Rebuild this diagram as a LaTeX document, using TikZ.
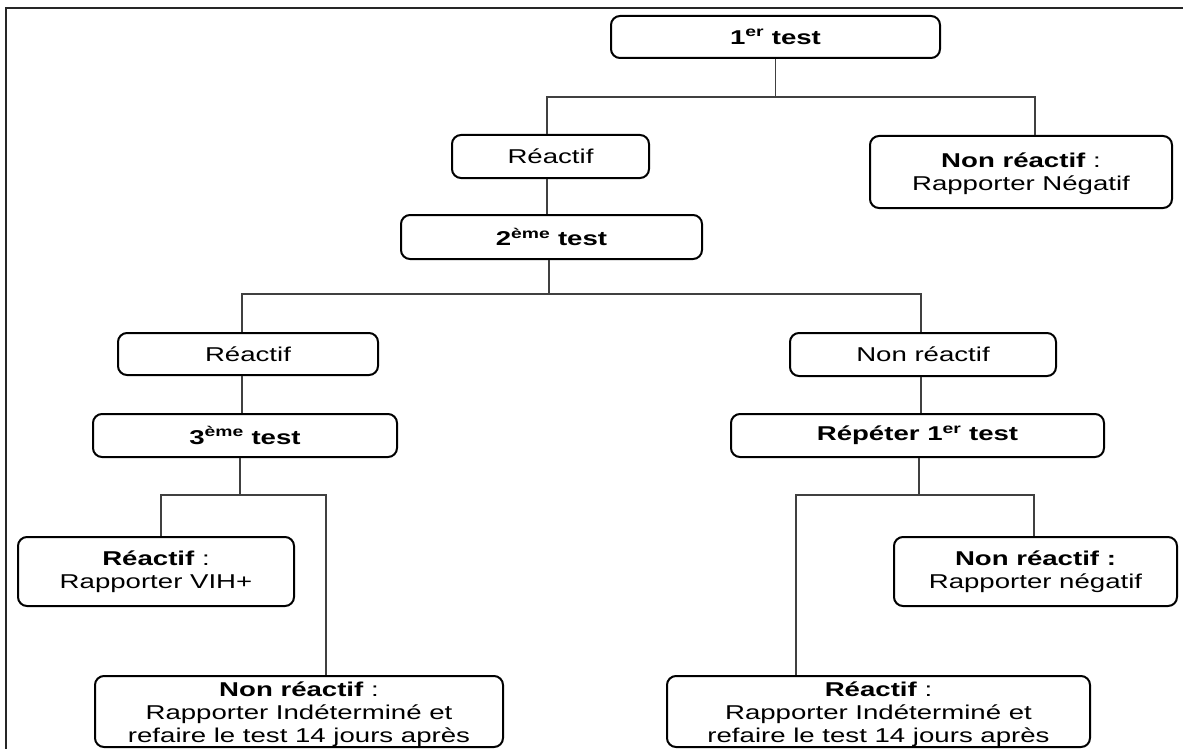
\documentclass[tikz,border=0pt]{standalone}
\usepackage{fontspec}
\setmainfont[FakeStretch=1.38]{Liberation Sans}
\begin{document}
\begin{tikzpicture}[x=1pt,y=-1pt,
  box/.style={draw=black,line width=2pt,rounded corners=9pt,inner sep=0pt,align=center,
    font=\fontsize{20}{23.5}\selectfont},
  txt/.style={inner sep=0pt,align=center,font=\fontsize{20}{23}\selectfont},
  conn/.style={draw=black!75,line width=1.3pt},
  frame/.style={draw=black!85,line width=2.5pt}]
\useasboundingbox (0,0) rectangle (1183,749);
\draw[frame] (6,749) -- (6,8) -- (1183,8);

\node[box,minimum width=329pt,minimum height=42pt] (t1) at (775.5,37) {\textbf{1\textsuperscript{er} test}};
\node[box,minimum width=197pt,minimum height=43pt] (r1) at (550.5,156.5) {Réactif};
\node[box,minimum width=302pt,minimum height=72pt] (n1) at (1021,172) {};
\node[txt] (n1t) at ([yshift=-2pt]n1.center) {\textbf{Non réactif} :\\Rapporter Négatif};
\node[box,minimum width=301pt,minimum height=44pt] (t2) at (551.5,237) {\textbf{2\textsuperscript{ème} test}};
\node[box,minimum width=260pt,minimum height=42pt] (r2) at (248,354) {Réactif};
\node[box,minimum width=266pt,minimum height=43pt] (n2) at (923,354.5) {Non réactif};
\node[box,minimum width=304pt,minimum height=43pt] (t3) at (245,435.5) {\textbf{3\textsuperscript{ème} test}};
\node[box,minimum width=373pt,minimum height=43pt] (rp) at (917.5,435.5) {\textbf{Répéter 1\textsuperscript{er} test}};
\node[box,minimum width=276pt,minimum height=69pt] (v1) at (156,571.5) {\textbf{Réactif} :\\Rapporter VIH+};
\node[box,minimum width=283pt,minimum height=69pt] (n3) at (1035.5,571.5) {\textbf{Non réactif :}\\Rapporter négatif};
\node[box,minimum width=408pt,minimum height=71pt] (b1) at (299,711.5) {};
\node[txt] (b1t) at ([yshift=-3pt]b1.center) {\textbf{Non réactif} :\\Rapporter Indéterminé et\\refaire le test 14 jours après};
\node[box,minimum width=423pt,minimum height=71pt] (b2) at (878.5,711.5) {};
\node[txt] (b2t) at ([yshift=-3pt]b2.center) {\textbf{Réactif} :\\Rapporter Indéterminé et\\refaire le test 14 jours après};

\coordinate (h1l) at (547,97);
\coordinate (h1r) at (1035,97);
\coordinate (h2l) at (242,294);
\coordinate (h2r) at (921,294);
\coordinate (h3l) at (161,495);
\coordinate (h3r) at (326,495);
\coordinate (h4l) at (796,495);
\coordinate (h4r) at (1034,495);
\coordinate (s3) at (240,495);
\coordinate (s4) at (919,495);

\draw[conn] (t1.south) -- (t1.south |- h1l);
\draw[conn] (r1.north -| h1l) -- (h1l) -- (h1r) -- (n1.north -| h1r);
\draw[conn] (r1.south -| h1l) -- (t2.north -| h1l);
\draw[conn] (t2.south -| 549,0) -- (549,294);
\draw[conn] (r2.north -| h2l) -- (h2l) -- (h2r) -- (n2.north -| h2r);
\draw[conn] (r2.south -| h2l) -- (t3.north -| h2l);
\draw[conn] (n2.south -| h2r) -- (rp.north -| h2r);
\draw[conn] (t3.south -| s3) -- (s3);
\draw[conn] (v1.north -| h3l) -- (h3l) -- (h3r) -- (b1.north -| h3r);
\draw[conn] (rp.south -| s4) -- (s4);
\draw[conn] (b2.north -| h4l) -- (h4l) -- (h4r) -- (n3.north -| h4r);
\end{tikzpicture}
\end{document}
